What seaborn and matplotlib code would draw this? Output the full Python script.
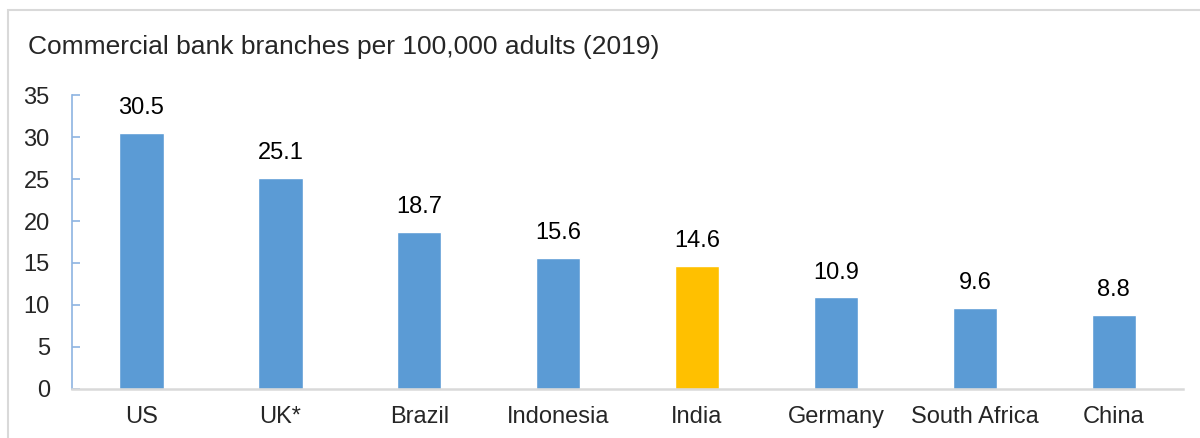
import matplotlib
matplotlib.use('Agg')
import matplotlib.pyplot as plt
import seaborn as sns
import pandas as pd
from matplotlib.patches import Rectangle

countries = ['US', 'UK*', 'Brazil', 'Indonesia', 'India', 'Germany', 'South Africa', 'China']
branches = [30.5, 25.1, 18.7, 15.6, 14.6, 10.9, 9.6, 8.8]
y_ticks = [0, 5, 10, 15, 20, 25, 30, 35]

blue = '#5B9BD5'
gold = '#FFC000'
colors = {c: (gold if c == 'India' else blue) for c in countries}

df = pd.DataFrame({'country': countries, 'value': branches})

sns.set_style('white')
plt.rcParams['font.family'] = ['Liberation Sans', 'DejaVu Sans']

fig = plt.figure(figsize=(12, 4.38), dpi=100)
ax = fig.add_axes([0.06, 0.112, 0.926, 0.671])

sns.barplot(data=df, x='country', y='value', hue='country', palette=colors,
            width=0.32, legend=False, ax=ax, saturation=1)

for i, v in enumerate(branches):
    ax.annotate(f'{v:.1f}', (i, v), xytext=(0, 10), textcoords='offset points',
                ha='center', va='bottom', fontsize=17, color='black')

ax.set_ylim(0, 35)
ax.set_yticks(y_ticks)
ax.set_xlim(-0.5, len(countries) - 0.5)
ax.set_xlabel('')
ax.set_ylabel('')

for s in ['top', 'right']:
    ax.spines[s].set_visible(False)
ax.spines['left'].set_color('#8DB4E2')
ax.spines['left'].set_linewidth(1.2)
ax.spines['bottom'].set_color('#D9D9D9')
ax.spines['bottom'].set_linewidth(1.8)

ax.tick_params(axis='y', direction='in', length=6, width=1.2, color='#8DB4E2',
               pad=16, labelsize=17, left=True)
ax.tick_params(axis='x', length=0, pad=12, labelsize=17)

fig.text(28 / 1200, 1 - 47 / 438, 'Commercial bank branches per 100,000 adults (2019)',
         fontsize=19, ha='left', va='center')

# outer chart border
fig.patches.append(Rectangle((8 / 1200, -0.1), 1.2, 1 - 10 / 438 + 0.1,
                             transform=fig.transFigure, fill=False,
                             edgecolor='#D9D9D9', linewidth=1.5))

fig.savefig('out.png', dpi=100)
